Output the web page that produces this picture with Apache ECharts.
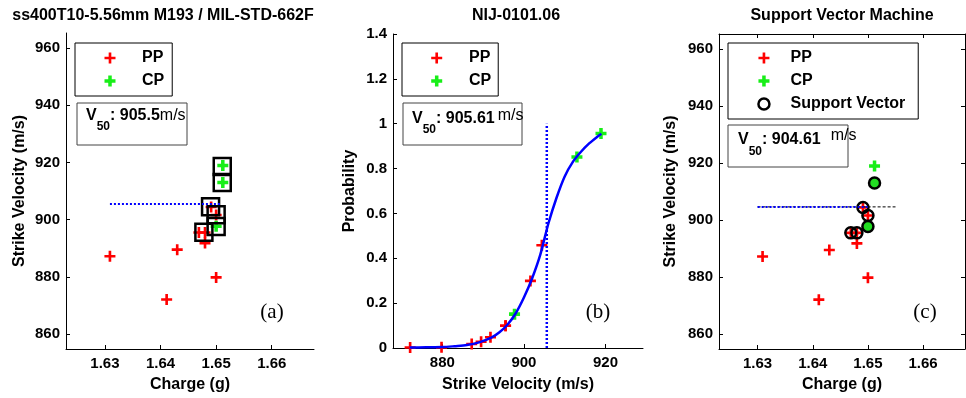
<!DOCTYPE html>
<html><head><meta charset="utf-8">
<script src="https://cdn.jsdelivr.net/npm/echarts@6/dist/echarts.min.js"></script>
<style>html,body{margin:0;padding:0;background:#fff}#c{width:966px;height:398px}</style>
</head><body><div id="c"></div>
<script>
// ---------------- data ----------------
const ppCharge     = [1.6309, 1.6411, 1.6430, 1.6480, 1.6500, 1.6469, 1.6480, 1.6491, 1.6500];
const ppVelocity   = [887.2, 872.1, 889.5, 891.8, 879.8, 895.5, 895.5, 904.4, 901.6];
const ppProb       = [0.018, 0.002, 0.028, 0.048, 0.003, 0.099, 0.099, 0.458, 0.299];
const cpCharge     = [1.6500, 1.6512, 1.6512];
const cpVelocity   = [897.7, 913.0, 918.9];
const cpProb       = [0.151, 0.852, 0.956];
const boxCharge    = [1.6511, 1.6511, 1.6490, 1.6500, 1.6500, 1.6478];
const boxVelocity  = [918.6, 913.0, 904.5, 901.7, 897.6, 895.6];
const svPPCharge   = [1.6469, 1.6480, 1.6491, 1.6500];
const svPPVelocity = [895.5, 895.5, 904.4, 901.6];
const svCPCharge   = [1.6500, 1.6512];
const svCPVelocity = [897.7, 913.0];
const curveVelocity = [872, 876, 880, 883, 886, 889, 892, 894, 896, 898, 900, 902, 904, 906, 908, 910, 912, 914, 916, 918, 919];
const curveProb     = [0.002, 0.003, 0.004, 0.008, 0.013, 0.025, 0.046, 0.07, 0.105, 0.155, 0.225, 0.31, 0.415, 0.555, 0.67, 0.765, 0.83, 0.875, 0.912, 0.942, 0.955];
const v50A = 905.5, v50B = 905.61, v50C = 904.61;
const v50LineA = [1.6309, 1.651];
const v50LineC = [1.63, 1.650];
const v50DashC = [1.63, 1.655];
const v50LineB = [0, 1];
const chargeTicks   = [1.63, 1.64, 1.65, 1.66];
const velocityTicks = [860, 880, 900, 920, 940, 960];
const strikeTicks   = [880, 900, 920];
const titles = ['ss400T10-5.56mm M193 / MIL-STD-662F', 'NIJ-0101.06', 'Support Vector Machine'];
const panelTags = ['(a)', '(b)', '(c)'];

// ---------------- helpers ----------------
const FF = "'Liberation Sans', Arial, Helvetica, sans-serif";
const zip = (a, b) => a.map((v, i) => [v, b[i]]);
const RED = '#ff0000', GREEN = '#18ee18', BLUE = '#0000ff';
const plusThin = 'path://M-1.2,-5L1.2,-5L1.2,-1.2L5,-1.2L5,1.2L1.2,1.2L1.2,5L-1.2,5L-1.2,1.2L-5,1.2L-5,-1.2L-1.2,-1.2Z';
const plusThick = 'path://M-1.6,-5L1.6,-5L1.6,-1.6L5,-1.6L5,1.6L1.6,1.6L1.6,5L-1.6,5L-1.6,1.6L-5,1.6L-5,-1.6L-1.6,-1.6Z M0,-3.4L3.4,0L0,3.4L-3.4,0Z';

function axis(extra) {
  return Object.assign({
    type: 'value',
    axisLine: { show: true, onZero: false, lineStyle: { color: '#000', width: 1 } },
    axisTick: { show: true, inside: true, length: 4, lineStyle: { color: '#000', width: 1 } },
    splitLine: { show: false },
    axisLabel: { color: '#000', fontSize: 15, fontWeight: 'bold', fontFamily: FF },
    nameLocation: 'middle',
    nameTextStyle: { color: '#000', fontSize: 16, fontWeight: 'bold', fontFamily: FF }
  }, extra);
}
const chargeAxis = (gi, extra) => axis(Object.assign({
  gridIndex: gi, min: 1.623, max: 1.6676,
  axisTick: { show: true, inside: true, length: 4, lineStyle: { color: '#000' }, customValues: chargeTicks },
  axisLabel: { color: '#000', fontSize: 15, fontWeight: 'bold', fontFamily: FF, margin: 7, customValues: chargeTicks, formatter: v => v.toFixed(2) },
  name: 'Charge (g)', nameGap: 28
}, extra || {}));
const velAxis = (gi, extra) => axis(Object.assign({
  gridIndex: gi, min: 854.8, max: 965.2,
  axisTick: { show: true, inside: true, length: 4, lineStyle: { color: '#000' }, customValues: velocityTicks },
  axisLabel: { color: '#000', fontSize: 15, fontWeight: 'bold', fontFamily: FF, margin: 6, customValues: velocityTicks, formatter: v => String(Math.round(v)) },
  name: 'Strike Velocity (m/s)', nameGap: 38
}, extra || {}));

const xAxis = [
  chargeAxis(0),
  axis({ gridIndex: 1, min: 867.9, max: 929.2, name: 'Strike Velocity (m/s)', nameGap: 29,
    axisTick: { show: true, inside: true, length: 4, lineStyle: { color: '#000' }, customValues: strikeTicks },
    axisLabel: { color: '#000', fontSize: 15, fontWeight: 'bold', fontFamily: FF, margin: 7, customValues: strikeTicks } }),
  chargeAxis(2),
  chargeAxis(2, { position: 'top', name: '', axisLabel: { show: false } })
];
const yAxis = [
  velAxis(0),
  axis({ gridIndex: 1, min: 0, max: 1.4, interval: 0.2, name: 'Probability', nameGap: 35,
    axisLabel: { color: '#000', fontSize: 15, fontWeight: 'bold', fontFamily: FF, margin: 6 } }),
  velAxis(2, { nameGap: 40 }),
  velAxis(2, { position: 'right', name: '', axisLabel: { show: false } })
];

const sc = (name, xi, data, symbol, color, size, extra) => Object.assign({
  name, type: 'scatter', xAxisIndex: xi, yAxisIndex: xi, data, symbol, symbolSize: size || 11,
  itemStyle: { color, opacity: 1 }, silent: true
}, extra || {});
const ln = (name, xi, data, color, width, dash, extra) => Object.assign({
  name, type: 'line', xAxisIndex: xi, yAxisIndex: xi, data, symbol: 'none', silent: true,
  lineStyle: { color, width, type: dash }
}, extra || {});

const series = [
  // panel (a)
  sc('PP', 0, zip(ppCharge, ppVelocity), plusThin, RED),
  sc('CP', 0, zip(cpCharge, cpVelocity), plusThick, GREEN),
  ln('v50a', 0, [[v50LineA[0], v50A], [v50LineA[1], v50A]], BLUE, 2, [2, 2]),
  sc('box', 0, zip(boxCharge, boxVelocity), 'rect', 'rgba(0,0,0,0)', 17,
     { itemStyle: { color: 'rgba(0,0,0,0)', borderColor: '#000', borderWidth: 2.5, opacity: 1 } }),
  // panel (b)
  sc('PP', 1, zip(ppVelocity, ppProb), plusThin, RED),
  sc('CP', 1, zip(cpVelocity, cpProb), plusThick, GREEN),
  ln('curve', 1, zip(curveVelocity, curveProb), BLUE, 2.5, 'solid', { smooth: 0.3 }),
  ln('v50b', 1, v50LineB.map(p => [v50B, p]), BLUE, 2.5, [2, 2]),
  // panel (c)
  ln('dashc', 2, v50DashC.map(x => [x, v50C]), '#000', 1, [3, 2]),
  ln('v50c', 2, v50LineC.map(x => [x, v50C]), BLUE, 2, [2, 2]),
  sc('PP', 2, zip(ppCharge, ppVelocity), plusThin, RED),
  sc('CP', 2, zip(cpCharge, cpVelocity), plusThick, GREEN),
  sc('Support Vector', 2, zip(svPPCharge, svPPVelocity), 'circle', 'rgba(0,0,0,0)', 11,
     { itemStyle: { color: 'rgba(0,0,0,0)', borderColor: '#000', borderWidth: 2.5, opacity: 1 } }),
  sc('svcp', 2, zip(svCPCharge, svCPVelocity), 'circle', '#22dd22', 11,
     { itemStyle: { color: '#22dd22', borderColor: '#000', borderWidth: 2.5, opacity: 1 } })
];

const legendItems = {
  PP: { name: 'PP', icon: plusThin, itemStyle: { color: RED, opacity: 1 } },
  CP: { name: 'CP', icon: plusThick, itemStyle: { color: GREEN, opacity: 1 } },
  SV: { name: 'Support Vector', icon: 'circle', itemStyle: { color: 'rgba(0,0,0,0)', borderColor: '#000', borderWidth: 2.5, opacity: 1 } }
};
const legendBase = (left, top, data, padding, textPad) => ({
  orient: 'vertical', left, top, data, itemWidth: 11, itemHeight: 11, itemGap: 7, padding,
  selectedMode: false, backgroundColor: '#fff', borderColor: '#000', borderWidth: 1,
  textStyle: { color: '#000', fontSize: 16, fontWeight: 'bold', fontFamily: FF, padding: [0, 0, 0, textPad] }
});
const legend = [
  legendBase(75, 43, [legendItems.PP, legendItems.CP], [7, 8, 7, 29.5], 21.5),
  legendBase(402, 43, [legendItems.PP, legendItems.CP], [7, 7, 7, 29.2], 21.8),
  legendBase(728, 43, [legendItems.PP, legendItems.CP, legendItems.SV], [7, 13, 7, 29.2], 16.1)
];

// V50 annotation boxes
const ctx = document.createElement('canvas').getContext('2d');
function tw(s, font) { ctx.font = font; return ctx.measureText(s).width; }
function v50Box(bx, by, bw, bh, tx, base, value, gap, unitRaise, subDrop) {
  const fMain = 'bold 16px ' + FF, fSub = 'bold 12px ' + FF, fUnit = '16px ' + FF;
  const els = [{ type: 'rect', shape: { x: bx, y: by, width: bw, height: bh }, style: { fill: '#fff', stroke: '#444', lineWidth: 1 }, z: 50 }];
  let x = tx;
  const add = (text, font, y) => {
    els.push({ type: 'text', x: x, y: y, z: 51, style: { text, font, fill: '#000', align: 'left', verticalAlign: 'bottom' } });
    x += tw(text, font);
  };
  add('V', fMain, base + 3);
  add('50', fSub, base + 3 + subDrop);
  add(': ' + value, fMain, base + 3);
  x += gap;
  add('m/s', fUnit, base + 3 - unitRaise);
  return els;
}

const graphic = [].concat(
  v50Box(77, 103, 110, 42, 86, 121, v50A, 0, 0, 9),
  v50Box(403, 103, 119, 42, 412, 124, v50B, 3, 3.5, 9),
  v50Box(728, 125, 120, 42, 738, 145, v50C, 10, 4, 10),
  [[163, titles[0]], [516, titles[1]], [842, titles[2]]].map(([x, t]) => ({
    type: 'text', x, y: 16, style: { text: t, font: 'bold 16px ' + FF, fill: '#000', align: 'center', verticalAlign: 'middle' }
  })),
  [[272, panelTags[0]], [598, panelTags[1]], [925, panelTags[2]]].map(([x, t]) => ({
    type: 'text', x, y: 312, style: { text: t, font: "21px 'Liberation Serif', 'Times New Roman', serif", fill: '#000', align: 'center', verticalAlign: 'middle' }
  }))
);

const chart = echarts.init(document.getElementById('c'), null, { renderer: 'canvas' });
chart.setOption({
  animation: false,
  backgroundColor: '#fff',
  grid: [
    { left: 66, top: 33, width: 248, height: 316 },
    { left: 393, top: 34, width: 250, height: 315 },
    { left: 719, top: 34, width: 246, height: 315 }
  ],
  xAxis, yAxis, series, legend, graphic
});
</script></body></html>
